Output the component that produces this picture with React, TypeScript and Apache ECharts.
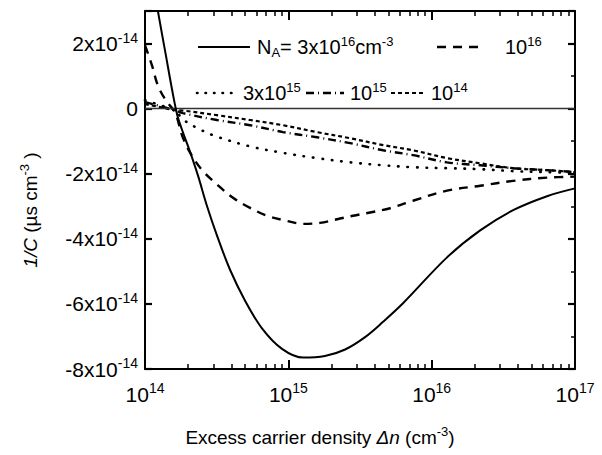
import React, { useEffect, useRef } from "react";
import * as echarts from "echarts";

// ---------- data (y values in units of 1e-14 µs cm^-3) ----------
const yMin = -8;
const yMax = 3;
const yInterval = 2;
const xMin = 1e14;
const xMax = 1e17;

// N_A = 3x10^16 cm^-3 (solid)
const xNA3e16 = [1.0e14, 1.23e14, 1.41e14, 1.55e14, 1.68e14, 1.81e14, 2.06e14, 2.34e14, 2.71e14, 3.18e14, 3.92e14, 4.99e14, 6.55e14, 9.03e14, 1.27e15, 1.8e15, 2.49e15, 3.43e15, 4.58e15, 6.31e15, 1.28e16, 2.18e16, 3.7e16, 6.38e16, 1.0e17];
const yNA3e16 = [5.3, 3.0, 1.55, 0.55, -0.2, -0.64, -1.32, -2.05, -3.0, -3.9, -4.95, -5.9, -6.75, -7.38, -7.65, -7.6, -7.4, -7.02, -6.55, -5.98, -4.57, -3.74, -3.12, -2.69, -2.45];

// N_A = 10^16 (dashed)
const xNA1e16 = [1.0e14, 1.12e14, 1.23e14, 1.4e14, 1.62e14, 1.84e14, 2.16e14, 2.54e14, 3.18e14, 4.11e14, 5.41e14, 7.1e14, 9.79e14, 1.27e15, 1.66e15, 2.19e15, 2.83e15, 3.72e15, 5.13e15, 7.41e15, 1.28e16, 2.18e16, 3.7e16, 6.38e16, 1.0e17];
const yNA1e16 = [1.95, 1.32, 0.71, 0.25, -0.12, -0.9, -1.5, -1.92, -2.33, -2.74, -3.05, -3.29, -3.45, -3.54, -3.51, -3.4, -3.29, -3.19, -3.06, -2.83, -2.52, -2.37, -2.22, -2.12, -2.09];

// N_A = 3x10^15 (dotted)
const xNA3e15 = [1.0e14, 1.27e14, 1.62e14, 1.84e14, 2.42e14, 3.18e14, 5.41e14, 9.18e14, 1.58e15, 2.7e15, 4.58e15, 7.41e15, 1.28e16, 2.18e16, 3.7e16, 6.38e16, 1.0e17];
const yNA3e15 = [0.26, 0.11, -0.05, -0.33, -0.64, -0.86, -1.16, -1.36, -1.52, -1.65, -1.74, -1.8, -1.83, -1.86, -1.92, -1.95, -1.98];

// N_A = 10^15 (dash-dot)
const xNA1e15 = [1.0e14, 1.27e14, 1.62e14, 1.84e14, 3.18e14, 5.41e14, 9.18e14, 1.58e15, 2.7e15, 4.58e15, 7.41e15, 1.28e16, 2.18e16, 3.7e16, 6.38e16, 1.0e17];
const yNA1e15 = [0.2, 0.08, -0.05, -0.14, -0.35, -0.51, -0.72, -0.88, -1.06, -1.28, -1.43, -1.65, -1.74, -1.83, -1.89, -1.95];

// N_A = 10^14 (short dash)
const xNA1e14 = [1.0e14, 1.27e14, 1.62e14, 1.84e14, 3.18e14, 5.41e14, 9.18e14, 1.58e15, 2.7e15, 4.58e15, 7.41e15, 1.28e16, 2.18e16, 3.7e16, 6.38e16, 1.0e17];
const yNA1e14 = [0.14, 0.05, -0.05, -0.06, -0.2, -0.35, -0.51, -0.72, -0.91, -1.12, -1.28, -1.52, -1.68, -1.83, -1.89, -1.95];

const FONT = "'Liberation Sans', Arial, Helvetica, sans-serif";

const zip = (xs: number[], ys: number[]) => xs.map((x, i) => [x, ys[i]]);

const richMain = {
  b: { fontSize: 21, fontFamily: FONT, color: "#000" },
  s: { fontSize: 14, fontFamily: FONT, color: "#000", padding: [0, 0, 12, 0] },
};

const axisLineStyle = { show: true, onZero: false, lineStyle: { color: "#000", width: 2 } };
const xTick = { show: true, inside: true, length: 9, lineStyle: { color: "#000", width: 2 } };
const xMinor = { show: true, splitNumber: 9, length: 5, lineStyle: { color: "#000", width: 1.5 } };
const yTick = { show: true, inside: true, length: 7, lineStyle: { color: "#000", width: 2.2 } };

export default function App() {
  const ref = useRef<HTMLDivElement>(null);

  useEffect(() => {
    if (!ref.current) return;
    const chart = echarts.init(ref.current, undefined, { renderer: "svg" });

    const lineBase = { type: "line", showSymbol: false, symbol: "none", smooth: 0.35, clip: true, xAxisIndex: 0, yAxisIndex: 0 };

    const richSmall = {
      b: { fontSize: 20, fontFamily: FONT, fill: "#000" },
      s: { fontSize: 13, fontFamily: FONT, fill: "#000", padding: [0, 0, 11, 0] },
      u: { fontSize: 13, fontFamily: FONT, fill: "#000", padding: [10, 0, 0, 0] },
    };

    const legendText = (x: number, y: number, text: string) => ({
      type: "text",
      x,
      y,
      style: { text, fill: "#000", font: `20px ${FONT}`, verticalAlign: "middle", align: "left", rich: richSmall },
    });
    const legendLine = (x1: number, x2: number, y: number, dash: any, width: number, cap = "butt") => ({
      type: "line",
      shape: { x1, y1: y, x2, y2: y },
      style: { stroke: "#000", lineWidth: width, lineDash: dash, lineCap: cap },
    });

    const titleRich = {
      b: { fontSize: 19, fontFamily: FONT, fill: "#000" },
      i: { fontSize: 19, fontFamily: FONT, fill: "#000", fontStyle: "italic" },
      s: { fontSize: 13, fontFamily: FONT, fill: "#000", padding: [0, 0, 11, 0] },
    };

    const option: any = {
      animation: false,
      backgroundColor: "#fff",
      grid: { left: 145, right: 27, top: 11, bottom: 86, containLabel: false },
      xAxis: [
        {
          type: "log",
          logBase: 10,
          min: xMin,
          max: xMax,
          axisLine: axisLineStyle,
          axisTick: xTick,
          minorTick: xMinor,
          splitLine: { show: false },
          minorSplitLine: { show: false },
          axisLabel: {
            margin: 12,
            formatter: (v: number) => `{b|10}{s|${Math.round(Math.log10(v))}}`,
            rich: richMain,
          },
        },
        {
          type: "log",
          logBase: 10,
          position: "top",
          min: xMin,
          max: xMax,
          axisLine: axisLineStyle,
          axisTick: xTick,
          minorTick: xMinor,
          splitLine: { show: false },
          minorSplitLine: { show: false },
          axisLabel: { show: false },
        },
      ],
      yAxis: [
        {
          type: "value",
          min: yMin,
          max: yMax,
          interval: yInterval,
          axisLine: axisLineStyle,
          axisTick: yTick,
          splitLine: { show: false },
          axisLabel: {
            margin: 7,
            formatter: (v: number) => {
              if (Math.abs(v % 2) > 1e-9) return "";
              if (v === 0) return "{b|0}";
              return `{b|${v}x10}{s|-14}`;
            },
            rich: richMain,
          },
        },
        {
          type: "value",
          position: "right",
          min: yMin,
          max: yMax,
          interval: yInterval,
          axisLine: axisLineStyle,
          axisTick: yTick,
          minorTick: { show: true, splitNumber: 2, length: 4, lineStyle: { color: "#000", width: 1.5 } },
          splitLine: { show: false },
          minorSplitLine: { show: false },
          axisLabel: { show: false },
        },
      ],
      series: [
        {
          ...lineBase,
          name: "3e16",
          data: zip(xNA3e16, yNA3e16),
          lineStyle: { color: "#000", width: 2, type: "solid" },
          markLine: {
            silent: true,
            symbol: "none",
            label: { show: false },
            lineStyle: { color: "#333", width: 1.3, type: "solid" },
            data: [{ yAxis: 0 }],
          },
          z: 5,
        },
        {
          ...lineBase,
          name: "1e16",
          data: zip(xNA1e16, yNA1e16),
          lineStyle: { color: "#000", width: 2.4, type: [9, 7] },
        },
        {
          ...lineBase,
          name: "3e15",
          data: zip(xNA3e15, yNA3e15),
          lineStyle: { color: "#000", width: 2.6, type: [0.5, 9], cap: "round" },
        },
        {
          ...lineBase,
          name: "1e15",
          data: zip(xNA1e15, yNA1e15),
          lineStyle: { color: "#000", width: 2.4, type: [8, 4, 1, 4], cap: "butt" },
        },
        {
          ...lineBase,
          name: "1e14",
          data: zip(xNA1e14, yNA1e14),
          lineStyle: { color: "#000", width: 2.2, type: [4, 3] },
        },
      ],
      graphic: [
        // legend row 1
        legendLine(198, 250, 47, null, 2),
        legendText(257, 47, "{b|N}{u|A}{b|= 3x10}{s|16}{b|cm}{s|-3}"),
        legendLine(437, 482, 47, [9, 7], 2.4),
        legendText(505, 47, "{b|10}{s|16}"),
        // legend row 2
        legendLine(197, 233, 93, [0.5, 8], 2.6, "round"),
        legendText(243, 93, "{b|3x10}{s|15}"),
        legendLine(306, 344, 93, [8, 4, 1, 4], 2.4),
        legendText(350, 93, "{b|10}{s|15}"),
        legendLine(391, 425, 93, [4, 3], 2.2),
        legendText(431, 93, "{b|10}{s|14}"),
        // axis titles
        {
          type: "text",
          x: 320,
          y: 437,
          style: {
            text: "{b|Excess carrier density }{i|Δn}{b| (cm}{s|-3}{b|)}",
            align: "center",
            verticalAlign: "middle",
            fill: "#000",
            font: `19px ${FONT}`,
            rich: titleRich,
          },
        },
        {
          type: "text",
          x: 30,
          y: 210,
          rotation: Math.PI / 2,
          style: {
            text: "{i|1/C}{b| (µs cm}{s|-3}{b| )}",
            align: "center",
            verticalAlign: "middle",
            fill: "#000",
            font: `19px ${FONT}`,
            rich: titleRich,
          },
        },
      ],
    };

    chart.setOption(option);
    return () => chart.dispose();
  }, []);

  return <div ref={ref} style={{ width: 602, height: 455, position: "absolute", left: 0, top: 0 }} />;
}
